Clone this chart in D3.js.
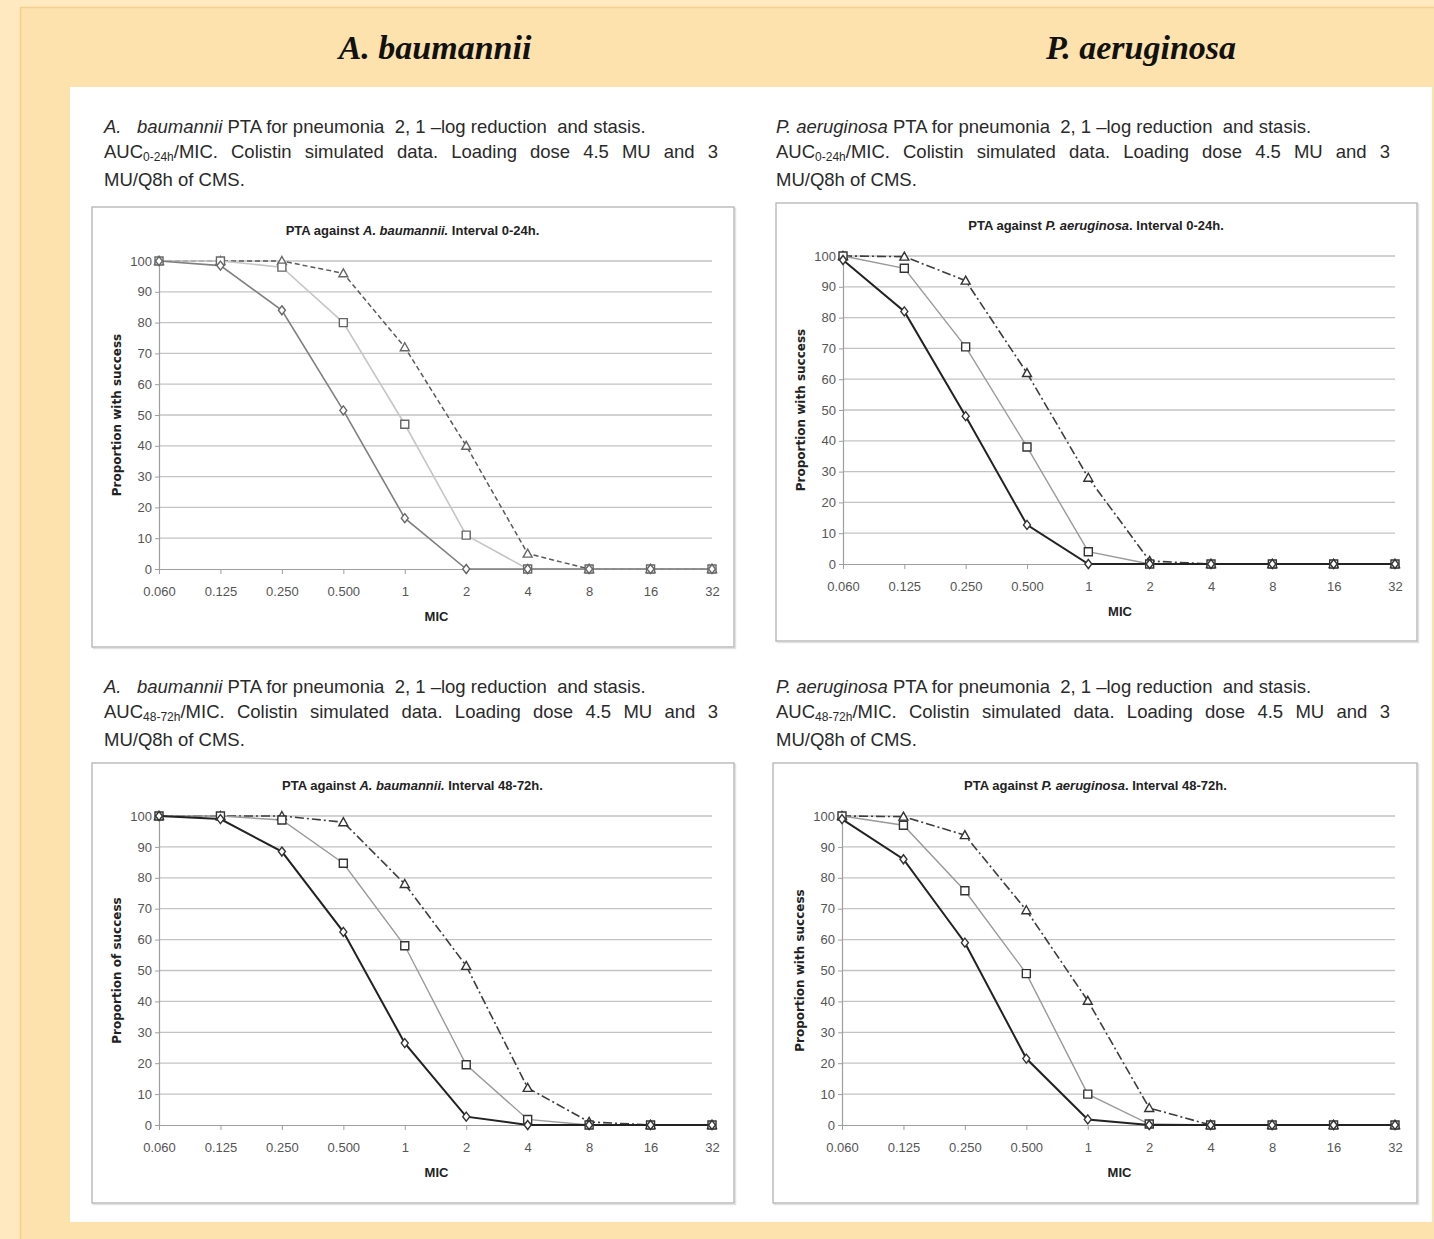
<!DOCTYPE html>
<html>
<head>
<meta charset="utf-8">
<script src="https://cdn.jsdelivr.net/npm/d3@7"></script>
<style>
body { margin: 0; background: #fee9c1; }
#page { position: relative; width: 1434px; height: 1239px; overflow: hidden; }
#page svg { position: absolute; left: 0; top: 0; }
.cap { position: absolute; width: 614px; font-family: "Liberation Sans Narrow", "Arial Narrow", "Liberation Sans", sans-serif;
       font-size: 18.5px; line-height: 25px; color: #2a2a2a; white-space: nowrap; }
.cap .j { text-align: justify; text-align-last: justify; white-space: normal; }
.cap .s { font-size: 12px; position: relative; top: 3px; }
</style>
</head>
<body>
<div id="page"></div>
<script>
// MIC categories on the x axis, y ticks
var micLabels = ["0.060", "0.125", "0.250", "0.500", "1", "2", "4", "8", "16", "32"];
var yTicks = [0, 10, 20, 30, 40, 50, 60, 70, 80, 90, 100];

// A. baumannii, interval 0-24h
var abEarlyDiamond  = [100, 98.5, 84, 51.5, 16.5, 0, 0, 0, 0, 0];
var abEarlySquare   = [100, 100, 98, 80, 47, 11, 0, 0, 0, 0];
var abEarlyTriangle = [100, 100, 100, 96, 72, 40, 5, 0, 0, 0];

// P. aeruginosa, interval 0-24h
var paEarlyDiamond  = [98.7, 82, 48, 12.7, 0, 0, 0, 0, 0, 0];
var paEarlySquare   = [100, 96, 70.5, 38, 4, 0, 0, 0, 0, 0];
var paEarlyTriangle = [100, 99.8, 92, 62, 28, 1, 0, 0, 0, 0];

// A. baumannii, interval 48-72h
var abLateDiamond  = [100, 99, 88.5, 62.5, 26.5, 2.7, 0, 0, 0, 0];
var abLateSquare   = [100, 100, 98.7, 84.7, 58, 19.5, 1.8, 0, 0, 0];
var abLateTriangle = [100, 100, 100, 98, 78, 51.5, 12, 1, 0, 0];

// P. aeruginosa, interval 48-72h
var paLateDiamond  = [99, 86, 59, 21.5, 1.8, 0, 0, 0, 0, 0];
var paLateSquare   = [100, 97, 75.8, 49, 10, 0.3, 0, 0, 0, 0];
var paLateTriangle = [100, 99.8, 93.8, 69.5, 40.2, 5.5, 0, 0, 0, 0];

var headers = ["A. baumannii", "P. aeruginosa"];

var page = d3.select("#page");
var svg = page.append("svg").attr("width", 1434).attr("height", 1239);

// background frame
svg.append("rect").attr("x", 0).attr("y", 0).attr("width", 1434).attr("height", 1239).attr("fill", "#fee9c1");
svg.append("rect").attr("x", 20.5).attr("y", 7.5).attr("width", 1430).attr("height", 1240)
	.attr("fill", "#fde2ad").attr("stroke", "#f4d08c").attr("stroke-width", 1.5);
svg.append("rect").attr("x", 70).attr("y", 87).attr("width", 1362).attr("height", 1135).attr("fill", "#fff");

svg.selectAll("text.header")
	.data(headers)
	.enter()
  .append("text")
	.attr("class", "header")
	.attr("x", function (d, i) { return i === 0 ? 435 : 1141; })
	.attr("y", 59)
	.attr("text-anchor", "middle")
	.style("font-family", "'Liberation Serif', 'Times New Roman', serif")
	.style("font-weight", "bold")
	.style("font-style", "italic")
	.style("font-size", "34px")
	.attr("fill", "#111")
	.text(function (d) { return d; });

// captions above each chart
function caption(left, top, species, sub) {
	var sp = species === "A" ? "<i>A.&nbsp;&nbsp; baumannii</i>" : "<i>P. aeruginosa</i>";
	page.append("div")
		.attr("class", "cap")
		.style("left", left + "px")
		.style("top", top + "px")
		.html("<div>" + sp + " PTA for pneumonia&nbsp; 2, 1 \u2013log reduction&nbsp; and stasis.</div>" +
			"<div class='j'>AUC<span class='s'>" + sub + "</span>/MIC. Colistin simulated data. Loading dose 4.5 MU and 3</div>" +
			"<div>MU/Q8h of CMS.</div>");
}
caption(104, 114, "A", "0-24h");
caption(776, 114, "P", "0-24h");
caption(104, 674, "A", "48-72h");
caption(776, 674, "P", "48-72h");

// marker shapes
var diamondShape = { draw: function (ctx) { ctx.moveTo(0, -4.5); ctx.lineTo(3.5, 0); ctx.lineTo(0, 4.5); ctx.lineTo(-3.5, 0); ctx.closePath(); } };
var squareShape = { draw: function (ctx) { ctx.rect(-4, -4, 8, 8); } };
var triangleShape = { draw: function (ctx) { ctx.moveTo(0, -4.5); ctx.lineTo(4.5, 3.5); ctx.lineTo(-4.5, 3.5); ctx.closePath(); } };

var soft = { diamond: ["#7f7f7f", 1.6, null], square: ["#c6c6c6", 1.6, null], triangle: ["#5a5a5a", 1.5, "5,3"], mark: "#666" };
var hard = { diamond: ["#222", 2, null], square: ["#9a9a9a", 1.4, null], triangle: ["#3d3d3d", 1.6, "9,3,2,3"], mark: "#333" };

var panels = [
	{ box: [92, 207, 642, 440], plot: [159, 712, 261, 569], species: "A. baumannii.", after: " Interval 0-24h.", ylab: "Proportion with success",
	  series: [abEarlyDiamond, abEarlySquare, abEarlyTriangle], look: soft },
	{ box: [776, 203, 641, 438], plot: [843, 1395, 256, 564], species: "P. aeruginosa", after: ". Interval 0-24h.", ylab: "Proportion with success",
	  series: [paEarlyDiamond, paEarlySquare, paEarlyTriangle], look: hard },
	{ box: [92, 763, 642, 440], plot: [159, 712, 816, 1125], species: "A. baumannii.", after: " Interval 48-72h.", ylab: "Proportion of success",
	  series: [abLateDiamond, abLateSquare, abLateTriangle], look: hard },
	{ box: [773, 763, 644, 440], plot: [842, 1395, 816, 1125], species: "P. aeruginosa", after: ". Interval 48-72h.", ylab: "Proportion with success",
	  series: [paLateDiamond, paLateSquare, paLateTriangle], look: hard }
];

var chartFont = "'Liberation Sans Narrow', 'Arial Narrow', 'Liberation Sans', sans-serif";

panels.forEach(function (p) {
	var b = p.box, pl = p.plot;
	var g = svg.append("g");

	g.append("rect").attr("x", b[0] + 1.5).attr("y", b[1] + 1.5).attr("width", b[2]).attr("height", b[3])
		.attr("fill", "none").attr("stroke", "#e2e2e2").attr("stroke-width", 1.5);
	g.append("rect").attr("x", b[0]).attr("y", b[1]).attr("width", b[2]).attr("height", b[3])
		.attr("fill", "#fff").attr("stroke", "#b3b3b3").attr("stroke-width", 1.3);

	var x = d3.scalePoint().domain(micLabels).range([pl[0], pl[1]]);
	var y = d3.scaleLinear().domain([0, 100]).range([pl[3], pl[2]]);

	// gridlines
	g.selectAll("line.grid")
		.data(yTicks.slice(1))
		.enter()
	  .append("line")
		.attr("class", "grid")
		.attr("x1", pl[0]).attr("x2", pl[1])
		.attr("y1", function (d) { return y(d); })
		.attr("y2", function (d) { return y(d); })
		.attr("stroke", "#c3c3c3").attr("stroke-width", 1.3);

	var ya = g.append("g").attr("transform", "translate(" + pl[0] + ",0)")
		.call(d3.axisLeft(y).tickValues(yTicks).tickSize(4).tickSizeOuter(0).tickPadding(3));
	var xa = g.append("g").attr("transform", "translate(0," + pl[3] + ")")
		.call(d3.axisBottom(x).tickSize(5).tickSizeOuter(0).tickPadding(13));
	[ya, xa].forEach(function (a) {
		a.select(".domain").attr("stroke", "#9e9e9e").attr("stroke-width", 1.2);
		a.selectAll(".tick line").attr("stroke", "#9e9e9e");
		a.selectAll(".tick text").attr("fill", "#555").style("font-family", chartFont).style("font-size", "13px");
	});

	// titles
	var t = g.append("text").attr("x", (pl[0] + pl[1]) / 2 - 23).attr("y", pl[2] - 26).attr("text-anchor", "middle")
		.style("font-family", chartFont).style("font-weight", "bold").style("font-size", "13px").attr("fill", "#222");
	t.append("tspan").text("PTA against ");
	t.append("tspan").style("font-style", "italic").text(p.species);
	t.append("tspan").text(p.after);

	g.append("text").attr("x", (pl[0] + pl[1]) / 2 + 1).attr("y", pl[3] + 52).attr("text-anchor", "middle")
		.style("font-family", chartFont).style("font-weight", "bold").style("font-size", "13px").attr("fill", "#222")
		.text("MIC");

	g.append("text")
		.attr("transform", "translate(" + (pl[0] - 38) + "," + ((pl[2] + pl[3]) / 2) + ") rotate(-90)")
		.attr("text-anchor", "middle")
		.style("font-family", "'DejaVu Sans', sans-serif").style("font-weight", "bold").style("font-size", "12px").attr("fill", "#222")
		.text(p.ylab);

	// lines and markers
	var kinds = ["diamond", "square", "triangle"];
	var shapes = [diamondShape, squareShape, triangleShape];
	var line = d3.line()
		.x(function (d, i) { return x(micLabels[i]); })
		.y(function (d) { return y(d); });

	[2, 1, 0].forEach(function (k) {
		var st = p.look[kinds[k]];
		g.append("path")
			.attr("d", line(p.series[k]))
			.attr("fill", "none")
			.attr("stroke", st[0])
			.attr("stroke-width", st[1])
			.attr("stroke-dasharray", st[2]);
	});
	[2, 1, 0].forEach(function (k) {
		g.selectAll("path.m" + k)
			.data(p.series[k])
			.enter()
		  .append("path")
			.attr("class", "m" + k)
			.attr("d", d3.symbol().type(shapes[k]))
			.attr("transform", function (d, i) { return "translate(" + x(micLabels[i]) + "," + y(d) + ")"; })
			.attr("fill", "#fff")
			.attr("stroke", p.look.mark)
			.attr("stroke-width", 1.4);
	});
});
</script>
</body>
</html>
